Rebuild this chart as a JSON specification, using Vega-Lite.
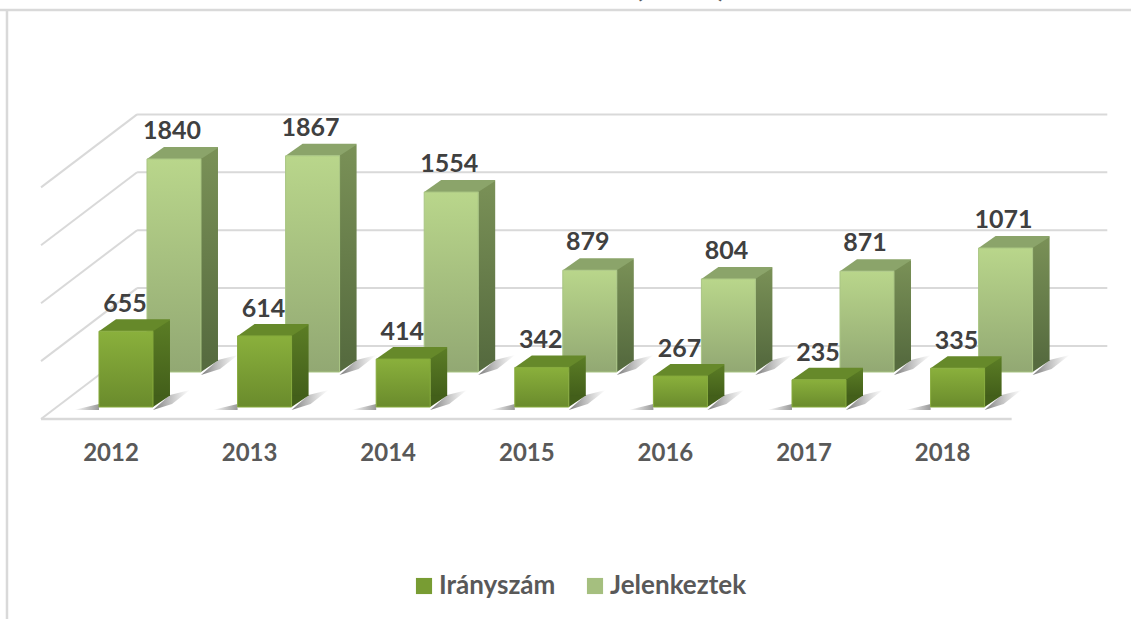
{"$schema":"https://vega.github.io/schema/vega-lite/v6.json","width":1131,"height":619,"padding":0,"autosize":{"type":"none"},"background":"white",
"config":{"view":{"stroke":null}},
"datasets":{"front":[{"year":2012,"series":"Irányszám","value":655},{"year":2013,"series":"Irányszám","value":614},{"year":2014,"series":"Irányszám","value":414},{"year":2015,"series":"Irányszám","value":342},{"year":2016,"series":"Irányszám","value":267},{"year":2017,"series":"Irányszám","value":235},{"year":2018,"series":"Irányszám","value":335}],
"back":[{"year":2012,"series":"Jelenkeztek","value":1840},{"year":2013,"series":"Jelenkeztek","value":1867},{"year":2014,"series":"Jelenkeztek","value":1554},{"year":2015,"series":"Jelenkeztek","value":879},{"year":2016,"series":"Jelenkeztek","value":804},{"year":2017,"series":"Jelenkeztek","value":871},{"year":2018,"series":"Jelenkeztek","value":1071}],
"levels":[{"year":2012,"value":0},{"year":2012,"value":500},{"year":2012,"value":1000},{"year":2012,"value":1500},{"year":2012,"value":2000}],"one":[{"year":2012,"value":0}]},
"data":{"name":"front"},
"encoding":{"x":{"field":"year","type":"quantitative","title":null,"scale":{"domain":[2011.091,2019.251],"nice":false,"zero":false,"padding":0},"axis":null},"y":{"field":"value","type":"quantitative","title":null,"scale":{"domain":[-1830.6,3514.7],"nice":false,"zero":false},"axis":null}},
"layer":[
{"data":{"name":"one"},"mark":{"type":"rule","color":"#d9d9d9","strokeWidth":2.5},"encoding":{"x":{"datum":2011.091},"x2":{"datum":2019.251},"y":{"datum":3428}}},
{"data":{"name":"one"},"mark":{"type":"rule","color":"#d9d9d9","strokeWidth":2.5},"encoding":{"x":{"datum":2011.1415},"y":{"datum":3428},"y2":{"datum":-1830.6}}},
{"data":{"name":"one"},"mark":{"type":"text","font":"Lato","fontSize":28,"fontWeight":"bold","color":"#595959","yOffset":-3,"baseline":"alphabetic","align":"center"},"encoding":{"x":{"datum":2016.0},"y":{"datum":3514.7},"text":{"value":"(\u00a0\u00a0\u00a0\u00a0\u00a0\u00a0\u00a0\u00a0\u00a0\u00a0\u00a0)"}}},
{"data":{"name":"levels"},"mark":{"type":"rule","color":"#d9d9d9","strokeWidth":2,"yOffset":-61},"encoding":{"x":{"datum":2012.08},"x2":{"datum":2019.08}}},
{"data":{"name":"levels"},"mark":{"type":"rule","color":"#d9d9d9","strokeWidth":2,"yOffset":12,"y2Offset":-61},"encoding":{"x":{"datum":2011.387},"x2":{"datum":2012.08},"y2":{"field":"value"}}},
{"data":{"name":"one"},"mark":{"type":"rule","color":"#d9d9d9","strokeWidth":2.5,"yOffset":12},"encoding":{"x":{"datum":2011.387},"x2":{"datum":2018.39},"y":{"datum":0}}},

{"data":{"name":"back"},"mark":{"type":"point","filled":true,"opacity":1,"size":4,"strokeWidth":0,"xOffset":48,"yOffset":-35,"shape":"M-52,3L-27,-3L-27,3Z","fill":{"gradient":"linear","x1":0,"y1":0,"x2":1,"y2":0,"stops":[{"offset":0,"color":"rgba(110,110,110,0)"},{"offset":1,"color":"rgba(110,110,110,0.7)"}]}},"encoding":{"y":{"datum":0}}},
{"data":{"name":"back"},"mark":{"type":"point","filled":true,"opacity":1,"size":4,"strokeWidth":0,"xOffset":48,"yOffset":-35,"shape":"M27,3L44,-12L64,-17L46,-3Z","fill":{"gradient":"linear","x1":0,"y1":0,"x2":1,"y2":0,"stops":[{"offset":0,"color":"rgba(90,90,90,0.8)"},{"offset":1,"color":"rgba(130,130,130,0)"}]}},"encoding":{"y":{"datum":0}}},
{"data":{"name":"back"},"mark":{"type":"bar","width":17,"xOffset":83.5,"yOffset":-46,"y2Offset":-46,"fill":{"gradient":"linear","x1":0,"y1":0,"x2":0,"y2":1,"stops":[{"offset":0,"color":"#7a9157"},{"offset":1,"color":"#566b3f"}]}},"encoding":{"y2":{"datum":0}}},
{"data":{"name":"back"},"mark":{"type":"point","filled":true,"opacity":1,"size":4,"strokeWidth":0,"xOffset":48,"yOffset":-35,"shape":"M27,-11.5L27,0L44,-11.5Z","fill":"#566b3f"},"encoding":{"y":{"datum":0}}},
{"data":{"name":"back"},"mark":{"type":"point","filled":true,"opacity":1,"size":4,"strokeWidth":0,"xOffset":48,"yOffset":-35,"shape":"M-27,0L27,0L44,-11L44,-12L-10,-12Z","fill":"#8ba46a"}},
{"data":{"name":"back"},"mark":{"type":"bar","width":54,"xOffset":48,"yOffset":-35,"y2Offset":-35,"stroke":"#a9c583","strokeWidth":1,"fill":{"gradient":"linear","x1":0,"y1":0,"x2":0,"y2":1,"stops":[{"offset":0,"color":"#b9d68b"},{"offset":1,"color":"#92a873"}]}},"encoding":{"y2":{"datum":0}}},

{"mark":{"type":"point","filled":true,"opacity":1,"size":4,"strokeWidth":0,"shape":"M-52,3L-27,-3L-27,3Z","fill":{"gradient":"linear","x1":0,"y1":0,"x2":1,"y2":0,"stops":[{"offset":0,"color":"rgba(110,110,110,0)"},{"offset":1,"color":"rgba(110,110,110,0.7)"}]}},"encoding":{"y":{"datum":0}}},
{"mark":{"type":"point","filled":true,"opacity":1,"size":4,"strokeWidth":0,"shape":"M27,3L44,-12L64,-17L46,-3Z","fill":{"gradient":"linear","x1":0,"y1":0,"x2":1,"y2":0,"stops":[{"offset":0,"color":"rgba(90,90,90,0.8)"},{"offset":1,"color":"rgba(130,130,130,0)"}]}},"encoding":{"y":{"datum":0}}},
{"mark":{"type":"bar","width":17,"xOffset":35.5,"yOffset":-11,"y2Offset":-11,"fill":{"gradient":"linear","x1":0,"y1":0,"x2":0,"y2":1,"stops":[{"offset":0,"color":"#5b7d25"},{"offset":1,"color":"#435f1a"}]}},"encoding":{"y2":{"datum":0}}},
{"mark":{"type":"point","filled":true,"opacity":1,"size":4,"strokeWidth":0,"shape":"M27,-11.5L27,0L44,-11.5Z","fill":"#435f1a"},"encoding":{"y":{"datum":0}}},
{"mark":{"type":"point","filled":true,"opacity":1,"size":4,"strokeWidth":0,"shape":"M-27,0L27,0L44,-11L44,-12L-10,-12Z","fill":"#66892a"}},
{"mark":{"type":"bar","width":54,"stroke":"#86aa3c","strokeWidth":1,"fill":{"gradient":"linear","x1":0,"y1":0,"x2":0,"y2":1,"stops":[{"offset":0,"color":"#8ab03c"},{"offset":1,"color":"#6a8b2c"}]}},"encoding":{"y2":{"datum":0}}},

{"data":{"name":"back"},"mark":{"type":"text","font":"Lato","fontWeight":"bold","fontSize":25,"color":"#404040","baseline":"alphabetic","xOffset":46,"yOffset":-55},"encoding":{"text":{"field":"value","type":"quantitative"}}},
{"mark":{"type":"text","font":"Lato","fontWeight":"bold","fontSize":25,"color":"#404040","baseline":"alphabetic","xOffset":-1,"yOffset":-19},"encoding":{"text":{"field":"value","type":"quantitative"}}},
{"mark":{"type":"text","font":"Lato","fontWeight":"bold","fontSize":24,"color":"#595959","baseline":"middle","xOffset":-15,"yOffset":0},"encoding":{"y":{"datum":-405},"text":{"field":"year","type":"quantitative","format":"d"}}},
{"data":{"values":[{"series":"Irányszám","year":2012,"value":0},{"series":"Jelenkeztek","year":2012,"value":0}]},"mark":{"type":"point","filled":true,"opacity":0,"size":1},"encoding":{"color":{"field":"series","type":"nominal","scale":{"domain":["Irányszám","Jelenkeztek"],"range":["#789c33","#a5bf7f"]},"legend":{"title":null,"orient":"none","legendX":411,"legendY":573,"direction":"horizontal","symbolType":"square","symbolSize":260,"symbolStrokeWidth":0,"labelFont":"Lato","labelFontWeight":"bold","labelFontSize":26,"labelColor":"#595959","labelOffset":2,"columnPadding":26,"symbolOpacity":1}}}}
]}
